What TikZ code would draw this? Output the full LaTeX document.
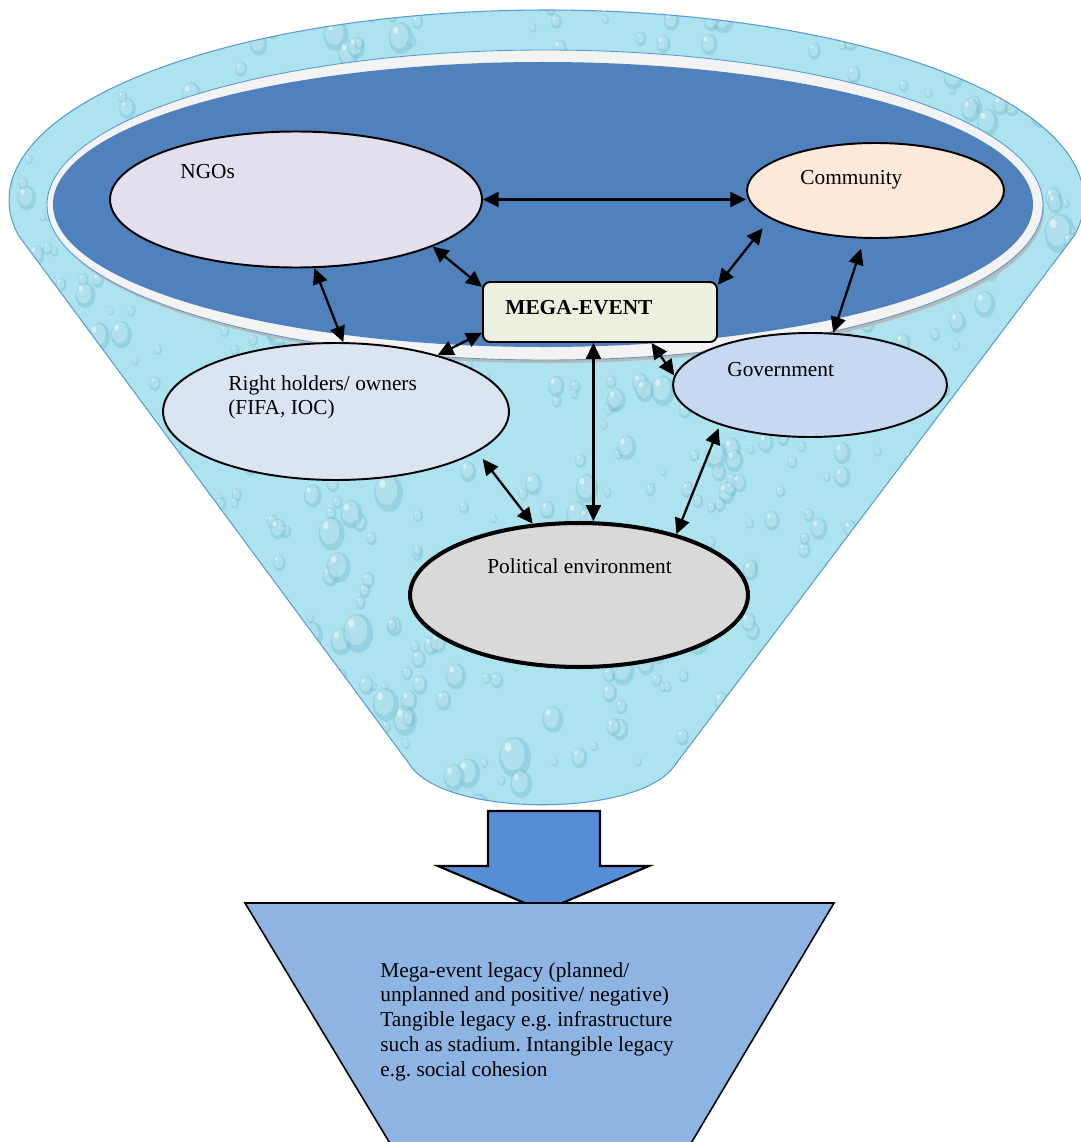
\documentclass[tikz,border=0pt]{standalone}
\usepackage{fontspec}
\setmainfont{Liberation Serif}
\usetikzlibrary{arrows.meta,shapes.geometric}

\definecolor{funnelline}{RGB}{91,155,213}
\definecolor{waterbase}{RGB}{172,227,238}
\definecolor{waterdrop}{RGB}{88,168,192}
\definecolor{ringblue}{RGB}{79,129,189}
\definecolor{rimwhite}{RGB}{243,243,243}
\definecolor{ngofill}{RGB}{228,223,236}
\definecolor{commfill}{RGB}{253,233,217}
\definecolor{megafill}{RGB}{235,241,222}
\definecolor{govfill}{RGB}{198,217,241}
\definecolor{rhfill}{RGB}{219,229,241}
\definecolor{polfill}{RGB}{217,217,217}
\definecolor{arrowfill}{RGB}{85,142,213}
\definecolor{legacyfill}{RGB}{142,180,227}

% outline of the funnel: elliptical rim on top, straight sides, rounded bottom
\def\funnelpath{plot[domain=-10.6:190.6,samples=140] ({546.5+537.5*cos(\x)},{200-190*sin(\x)})
  -- (410,765) .. controls (445,818) and (640,818) .. (675,765) -- cycle}

\begin{document}
\frenchspacing
\begin{tikzpicture}[x=0.02cm,y=-0.02cm,
  txt/.style={font=\fontsize{12.15}{14.17}\selectfont, inner sep=0pt, anchor=base west},
  actor/.style={ellipse, draw=black, line width=1.1pt, inner sep=0pt},
  link/.style={line width=1.3pt, {Triangle[length=9pt,width=8.5pt]}-{Triangle[length=9pt,width=8.5pt]}},
]
\useasboundingbox (0,0) rectangle (1081,1142);
\fill[white] (0,0) rectangle (1081,1142);

% funnel with water-drop texture
\begin{scope}
  \clip \funnelpath;
  \fill[waterbase] (0,0) rectangle (1081,830);
  \pgfmathsetseed{11}
  \foreach \i in {1,...,900}{
    \pgfmathsetmacro\dx{rnd*1081}
    \pgfmathsetmacro\dy{rnd*830}
    \pgfmathsetmacro\dr{3.5+rnd*rnd*13}
    \fill[waterdrop,opacity=0.26] (\dx+0.15*\dr,\dy+0.2*\dr) ellipse [x radius=\dr, y radius=1.3*\dr];
    \fill[waterbase!70!white,opacity=0.55] (\dx,\dy) ellipse [x radius=0.75*\dr, y radius=\dr];
    \fill[white,opacity=0.5] (\dx-0.3*\dr,\dy-0.45*\dr) ellipse [x radius=0.22*\dr, y radius=0.3*\dr];
  }
\end{scope}
\draw[funnelline, line width=0.6pt] \funnelpath;

% rim of the dark blue disc
\fill[gray!55] (547,209) ellipse [x radius=497, y radius=154];
\filldraw[fill=rimwhite, draw=funnelline, line width=0.5pt] (545,205) ellipse [x radius=498, y radius=155];
\fill[ringblue] (543,204.5) ellipse [x radius=490, y radius=142.5];

% actors
\node[actor, fill=ngofill, minimum width=7.44cm, minimum height=2.72cm] (ngo) at (296,199.5) {};
\node[actor, fill=commfill, minimum width=5.14cm, minimum height=1.9cm] (comm) at (875.5,190.5) {};
\node[draw=black, line width=1.1pt, rounded corners=0.14cm, fill=megafill, minimum width=4.68cm, minimum height=1.2cm, inner sep=0pt] (mega) at (600,312) {};
\node[actor, fill=rhfill, minimum width=6.92cm, minimum height=2.74cm] (rh) at (336,411.5) {};
\node[actor, fill=govfill, minimum width=5.48cm, minimum height=2.08cm] (gov) at (810,385) {};
\node[actor, fill=polfill, line width=2.3pt, minimum width=6.76cm, minimum height=2.88cm] (pol) at (579,595) {};

% labels
\node[txt] (ngolabel) at (180,179) {NGOs};
\node[txt] (commlabel) at (800,185) {Community};
\node[txt, font=\fontsize{12.15}{14.17}\selectfont\bfseries] (megalabel) at (505,314) {MEGA-EVENT};
\node[txt] (govlabel) at (727,376) {Government};
\node[txt] (rhlabel) at (228,390) {\begin{tabular}[t]{@{}l@{}}Right holders/ owners\\(FIFA, IOC)\end{tabular}};
\node[txt] (pollabel) at (487,573) {Political environment};

% relations
\draw[link] (ngo.east) -- (ngo.east -| comm.west);
\draw[link] (ngo.-19.4) -- (mega.168.5);
\draw[link] (ngo.-75) -- (rh.84);
\draw[link] (rh.29.4) -- (mega.190);
\draw[link, shorten >=7pt] (mega.13.9) -- (comm.195);
\draw[link, shorten <=6pt] (comm.257) -- (gov.66);
\draw[link] (mega.-31) -- (gov.176.7);
\draw[link] (mega.258.7) -- (mega.258.7 |- pol.north);
\draw[link, shorten <=5pt] (rh.-16.5) -- (pol.123);
\draw[link, shorten <=2pt] (gov.204.3) -- (pol.32.6);

% outcome arrow and legacy funnel
\draw[fill=arrowfill, line width=1.2pt, line join=miter] (488,811) -- (600,811) -- (600,866) -- (649,866) -- (543.5,911) -- (438,866) -- (488,866) -- cycle;
\draw[fill=legacyfill, line width=0.9pt] (245,903) -- (834,903) -- (687,1150) -- (394,1150) -- cycle;
\node[txt] (legacy) at (380,977) {\begin{tabular}[t]{@{}l@{}}Mega-event legacy (planned/\\unplanned and positive/ negative)\\Tangible legacy e.g. infrastructure\\such as stadium. Intangible legacy\\e.g. social cohesion\end{tabular}};
\end{tikzpicture}
\end{document}
